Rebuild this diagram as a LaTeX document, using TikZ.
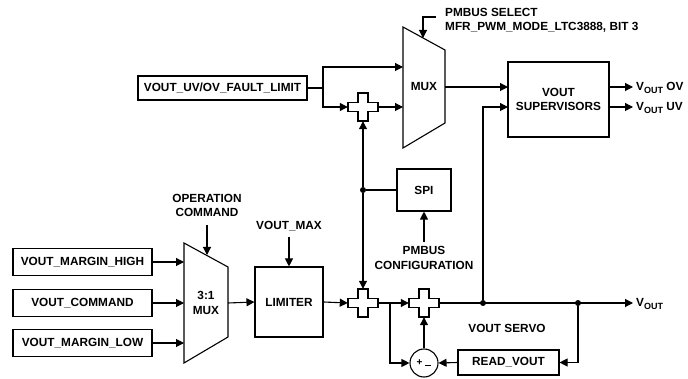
\documentclass[tikz,border=0pt]{standalone}
\usepackage{fontspec}
\setmainfont{Liberation Sans}
\usetikzlibrary{arrows.meta,positioning}

\newcommand{\voutsub}{V\raisebox{-2.2pt}{\fontsize{9}{9}\selectfont OUT}}
% outline of a summing cross, drawn round a sumnode
\newcommand{\crossoutline}[1]{%
  \draw[line width=1.1pt, fill=white, shift={(#1.center)}]
    (-5,-14) -- (5,-14) -- (5,-4.5) -- (15,-4.5) -- (15,4.5) -- (5,4.5)
    -- (5,14) -- (-5,14) -- (-5,4.5) -- (-15,4.5) -- (-15,-4.5) -- (-5,-4.5) -- cycle;}

\begin{document}
\begin{tikzpicture}[
  x=1pt, y=-1pt,
  font=\fontsize{11.8}{14.5}\selectfont\bfseries,
  box/.style={draw, line width=1.1pt, align=center, inner sep=0pt},
  sumnode/.style={minimum width=30pt, minimum height=28pt, inner sep=0pt},
  line/.style={-{Triangle[length=8pt,width=8pt]}, line width=1.1pt},
  wire/.style={line width=1.1pt},
  dot/.style={circle, fill, inner sep=0pt, minimum size=6pt},
  lbl/.style={align=center, inner sep=0pt}
]
\useasboundingbox (0,0) rectangle (688,379);

% input registers
\node[box, minimum width=139pt, minimum height=27pt] (mhigh) at (82.5,262) {VOUT\_MARGIN\_HIGH};
\node[box, minimum width=139pt, minimum height=27pt] (vcmd) at (82.5,303) {VOUT\_COMMAND};
\node[box, minimum width=139pt, minimum height=27pt] (mlow) at (82.5,343) {VOUT\_MARGIN\_LOW};
\node[box, minimum width=169pt, minimum height=24pt] (fault) at (222.5,88) {VOUT\_UV/OV\_FAULT\_LIMIT};

% 3:1 mux
\draw[wire] (184,243) -- (228,267) -- (228,337) -- (184,363) -- cycle;
\node[lbl] (mux3) at (206,303) {3:1\\MUX};
\coordinate (mux3a) at (184,262);
\coordinate (mux3b) at (184,303);
\coordinate (mux3c) at (184,343);
\coordinate (mux3out) at (228,303);
\coordinate (mux3sel) at (207,255);
\node[lbl] (opcmd) at (207,205.5) {OPERATION\\COMMAND};

% limiter
\node[box, minimum width=68pt, minimum height=70pt] (limiter) at (289,302) {LIMITER};
\node[lbl] (vmax) at (289,226) {VOUT\_MAX};

% summing points
\node[sumnode] (sumtop) at (363,107) {};
\node[sumnode] (sumlim) at (363,303) {};
\node[sumnode] (sumsrv) at (424,303) {};
\node[draw, circle, line width=1.1pt, minimum size=28pt, inner sep=0pt,
  font=\fontsize{10}{10}\selectfont\bfseries] (diff) at (424,363)
  {+\hspace{3pt}\raisebox{-1pt}{\rule{6pt}{1.8pt}}};

% SPI
\node[box, minimum width=54pt, minimum height=42pt] (spi) at (424,190) {SPI};
\node[lbl] (pmcfg) at (424,258) {PMBUS\\CONFIGURATION};
\node[dot] (dotspi) at (363,190) {};

% output mux
\draw[wire] (403,27) -- (445,50) -- (445,123) -- (403,148) -- cycle;
\node[lbl] (mux) at (424,87) {MUX};
\coordinate (muxin1) at (403,67);
\coordinate (muxin2) at (403,107);
\coordinate (muxout) at (445,87);
\coordinate (muxsel) at (423,38);
\coordinate (selstart) at (436,17);
\node[lbl, anchor=west, align=left] (pmsel) at (445,20.5) {PMBUS SELECT\\MFR\_PWM\_MODE\_LTC3888, BIT 3};

% supervisors
\node[box, minimum width=101pt, minimum height=75pt] (sup) at (558.5,99.5) {VOUT\\SUPERVISORS};
\coordinate (supin1) at (508,87);
\coordinate (supin2) at (508,107);
\coordinate (ovend) at (633,87);
\coordinate (uvend) at (633,107);
\node[lbl, anchor=west] (ovlbl) at (636,88) {\voutsub\ OV};
\node[lbl, anchor=west] (uvlbl) at (636,108) {\voutsub\ UV};

% servo loop
\node[box, minimum width=101pt, minimum height=25pt] (readv) at (508.5,362.5) {READ\_VOUT};
\node[lbl] (servo) at (507,328) {VOUT SERVO};
\node[dot] (dotsup) at (483,303) {};
\node[dot] (dotfb) at (578,303) {};
\coordinate (tap) at (390,303);
\coordinate (voutend) at (633,303);
\node[lbl, anchor=west] (voutlbl) at (636,304) {\voutsub};
\coordinate (split) at (323,88);

% connections
\draw[line] (mhigh.east) -- (mux3a);
\draw[line] (vcmd.east) -- (mux3b);
\draw[line] (mlow.east) -- (mux3c);
\draw[line] (opcmd.south |- 0,225) -- (mux3sel);
\draw[line] (mux3out) -- (limiter.west);
\draw[line] (vmax.south |- 0,237) -- (limiter.north);
\draw[line] (limiter.east) -- (sumlim.west);
\draw[wire] (fault.east) -- (split);
\draw[line] (split) |- (muxin1);
\draw[line] (split) |- (sumtop.west);
\draw[line] (sumtop.east) -- (muxin2);
\draw[line] (selstart) -| (muxsel);
\draw[wire] (spi.west) -- (dotspi);
\draw[line] (dotspi) -- (sumtop.south);
\draw[line] (dotspi) -- (sumlim.north);
\draw[line] (pmcfg.north |- 0,242) -- (spi.south);
\draw[line] (sumlim.east) -- (sumsrv.west);
\draw[line] (tap) |- (diff.west);
\draw[line] (diff.north) -- (sumsrv.south);
\draw[line] (readv.west) -- (diff.east);
\draw[line] (dotfb) |- (readv.east);
\draw[line] (sumsrv.east) -- (voutend);
\draw[line] (dotsup) |- (supin2);
\draw[line] (muxout) -- (supin1);
\draw[line] (sup.east |- ovend) -- (ovend);
\draw[line] (sup.east |- uvend) -- (uvend);

\crossoutline{sumtop}
\crossoutline{sumlim}
\crossoutline{sumsrv}
\end{tikzpicture}
\end{document}
